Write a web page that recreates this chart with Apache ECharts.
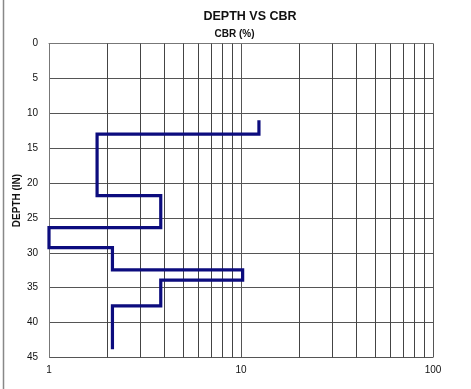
<!DOCTYPE html>
<html>
<head>
<meta charset="utf-8">
<script src="https://cdn.jsdelivr.net/npm/echarts@6/dist/echarts.min.js"></script>
<style>
html,body{margin:0;padding:0;background:#fff;}
#chart{width:471px;height:389px;}
</style>
</head>
<body>
<div id="chart"></div>
<script>
// Layer data
const cbrValues = [12.4, 1.78, 3.82, 1.0, 2.14, 10.2, 3.82, 2.14];
const depthFrom = [11, 13, 21.8, 26.4, 29.25, 32.45, 33.9, 37.6];
const depthTo   = [13, 21.8, 26.4, 29.25, 32.45, 33.9, 37.6, 43.8];
const minorGridValues = [2,3,4,5,6,7,8,9,20,30,40,50,60,70,80,90];
const depthTicks = [0,5,10,15,20,25,30,35,40,45];

const FONT = 'Arial, "Liberation Sans", sans-serif';

const stepData = [];
for (let i = 0; i < cbrValues.length; i++) {
  stepData.push([cbrValues[i], depthFrom[i]]);
  stepData.push([cbrValues[i], depthTo[i]]);
}

const chart = echarts.init(document.getElementById('chart'), null, {renderer: 'canvas'});
chart.setOption({
  animation: false,
  backgroundColor: '#fff',
  title: [
    {text: 'DEPTH VS CBR', left: 245, top: 5, textAlign: 'center',
     textStyle: {fontFamily: FONT, fontSize: 12.5, fontWeight: 'bold', color: '#111'}},
    {text: 'CBR (%)', left: 229.5, top: 24.5, textAlign: 'center',
     textStyle: {fontFamily: FONT, fontSize: 10, fontWeight: 'bold', color: '#111'}}
  ],
  grid: {left: 49, right: 38, top: 43.5, bottom: 31.5, containLabel: false},
  xAxis: {
    type: 'log', logBase: 10, min: 1, max: 100,
    axisLine: {show: true, lineStyle: {color: '#777', width: 1}},
    axisTick: {show: false},
    axisLabel: {fontFamily: FONT, fontSize: 10, color: '#111', margin: 8},
    splitLine: {show: true, lineStyle: {color: '#555', width: 1}}
  },
  yAxis: {
    type: 'value', inverse: true, min: 0, max: 45, interval: 5,
    name: 'DEPTH (IN)', nameLocation: 'middle', nameGap: 27, nameRotate: 90,
    nameMoveOverlap: false,
    nameTextStyle: {fontFamily: FONT, fontSize: 10, fontWeight: 'bold', color: '#111'},
    axisLine: {show: true, lineStyle: {color: '#777', width: 1}},
    axisTick: {show: false},
    axisLabel: {fontFamily: FONT, fontSize: 10, color: '#111', margin: 11,
      formatter: v => depthTicks.includes(v) ? String(v) : ''},
    splitLine: {show: true, lineStyle: {color: '#555', width: 1}}
  },
  graphic: [
    {type: 'line', shape: {x1: 3.5, y1: 0, x2: 3.5, y2: 389},
     style: {stroke: '#888', lineWidth: 1.5}, silent: true}
  ],
  series: [
    {
      type: 'line',
      data: [],
      silent: true,
      markLine: {
        silent: true, symbol: 'none', animation: false,
        label: {show: false},
        lineStyle: {color: '#444', width: 1, type: 'solid'},
        data: minorGridValues.map(v => ({xAxis: v}))
      },
      z: 1
    },
    {
      type: 'line',
      data: stepData,
      showSymbol: false,
      clip: false,
      lineStyle: {color: '#0c0c7e', width: 3.2, join: 'miter'},
      z: 5
    }
  ]
});
</script>
</body>
</html>
